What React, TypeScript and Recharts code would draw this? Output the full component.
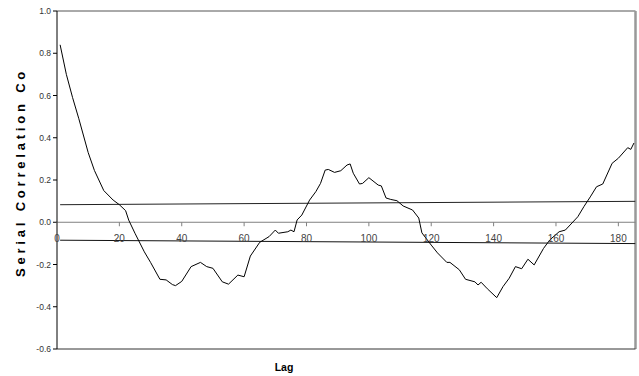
import { LineChart, Line, XAxis, YAxis, ReferenceLine } from 'recharts'

// serial correlation coefficient by lag
const lags = [
  1, 3, 5, 7, 10, 12, 15, 18, 20, 22, 23, 25, 28, 30, 33, 35, 37, 38, 40, 43,
  46, 48, 50, 53, 55, 58, 60, 62, 65, 68, 70, 71, 74, 75, 76, 77, 78.5, 81, 83,
  84.5, 86, 87, 89, 91, 93, 94, 95, 97, 98, 100, 103, 104, 105.5, 107, 109,
  111, 114, 116, 117, 120, 122, 125, 126, 129, 131, 134, 135, 136, 138, 141,
  143, 145, 147, 149, 151, 153, 156, 158, 161, 163, 167, 169, 171, 173, 175,
  178, 180, 183, 184, 185,
]
const serialCorr = [
  0.84, 0.7, 0.59, 0.49, 0.33, 0.245, 0.15, 0.105, 0.083, 0.055, 0.01, -0.052,
  -0.14, -0.19, -0.27, -0.273, -0.295, -0.3, -0.28, -0.21, -0.19, -0.21,
  -0.218, -0.282, -0.293, -0.25, -0.258, -0.16, -0.095, -0.068, -0.037, -0.052,
  -0.045, -0.037, -0.045, 0.011, 0.034, 0.105, 0.145, 0.184, 0.247, 0.25,
  0.236, 0.244, 0.271, 0.276, 0.232, 0.181, 0.184, 0.211, 0.176, 0.172, 0.115,
  0.108, 0.102, 0.077, 0.058, 0.02, -0.05, -0.108, -0.145, -0.19, -0.19,
  -0.225, -0.27, -0.282, -0.297, -0.284, -0.315, -0.357, -0.305, -0.265, -0.21,
  -0.22, -0.175, -0.202, -0.124, -0.084, -0.045, -0.037, 0.026, 0.075, 0.12,
  0.168, 0.181, 0.279, 0.303, 0.353, 0.345, 0.375,
]

// confidence band lines
const bandLags = [1, 185.5]
const upperBand = [0.083, 0.099]
const lowerBand = [-0.085, -0.101]

const xTicks = [0, 20, 40, 60, 80, 100, 120, 140, 160, 180]
const yTicks = [-0.6, -0.4, -0.2, 0, 0.2, 0.4, 0.6, 0.8, 1.0]

const Y_MIN = -0.6
const Y_MAX = 1.0
const X_MAX = 185.5
const TOP = 11
const PLOT_H = 338
const ZERO_Y = TOP + (PLOT_H * Y_MAX) / (Y_MAX - Y_MIN)

const corrData = lags.map((lag, i) => ({ lag, r: serialCorr[i] }))
const upperData = bandLags.map((lag, i) => ({ lag, r: upperBand[i] }))
const lowerData = bandLags.map((lag, i) => ({ lag, r: lowerBand[i] }))

const font = 'Arial, "Liberation Sans", sans-serif'

// x ticks sit on the zero line, not at the bottom of the plot
function LagTick(props: any) {
  const { x, payload } = props
  return (
    <g transform={`translate(${x},${ZERO_Y})`}>
      <line y1={0} y2={4} stroke="#808080" />
      <text y={20} textAnchor="middle" fontSize={10} fontFamily={font} fill="#444">
        {payload.value}
      </text>
    </g>
  )
}

export default function App() {
  return (
    <div style={{ position: 'absolute', left: 0, top: 0, width: 639, height: 376, background: '#fff' }}>
      <LineChart
        width={639}
        height={376}
        data={corrData}
        margin={{ top: TOP, right: 3.5, bottom: 0, left: 0 }}
      >
        <XAxis
          dataKey="lag"
          type="number"
          domain={[0, X_MAX]}
          ticks={xTicks}
          allowDataOverflow
          height={27}
          stroke="#333"
          tickLine={false}
          tick={<LagTick />}
        />
        <YAxis
          type="number"
          domain={[Y_MIN, Y_MAX]}
          ticks={yTicks}
          width={57}
          tickSize={4}
          stroke="#000"
          tickFormatter={(v: number) => v.toFixed(1)}
          tick={{ fontSize: 8.5, fontFamily: font, fill: '#333' }}
        />
        <ReferenceLine y={Y_MAX} stroke="#555" />
        <ReferenceLine x={X_MAX} stroke="#999" strokeWidth={2.5} />
        <ReferenceLine y={0} stroke="#808080" />
        <Line
          data={upperData}
          dataKey="r"
          stroke="#222"
          strokeWidth={1}
          dot={false}
          isAnimationActive={false}
        />
        <Line
          data={lowerData}
          dataKey="r"
          stroke="#111"
          strokeWidth={1}
          dot={false}
          isAnimationActive={false}
        />
        <Line
          dataKey="r"
          stroke="#000"
          strokeWidth={1}
          dot={false}
          isAnimationActive={false}
        />
      </LineChart>
      <svg style={{ position: 'absolute', left: 0, top: 0 }} width={639} height={376} pointerEvents="none">
        <text
          x={25}
          y={277}
          transform="rotate(-90, 25, 277)"
          fontSize={13}
          fontWeight="bold"
          fontFamily={font}
          letterSpacing={3.8}
          fill="#000"
        >
          Serial Correlation Co
        </text>
        <text x={284} y={371} textAnchor="middle" fontSize={10.5} fontWeight="bold" fontFamily={font} fill="#000">
          Lag
        </text>
      </svg>
    </div>
  )
}
